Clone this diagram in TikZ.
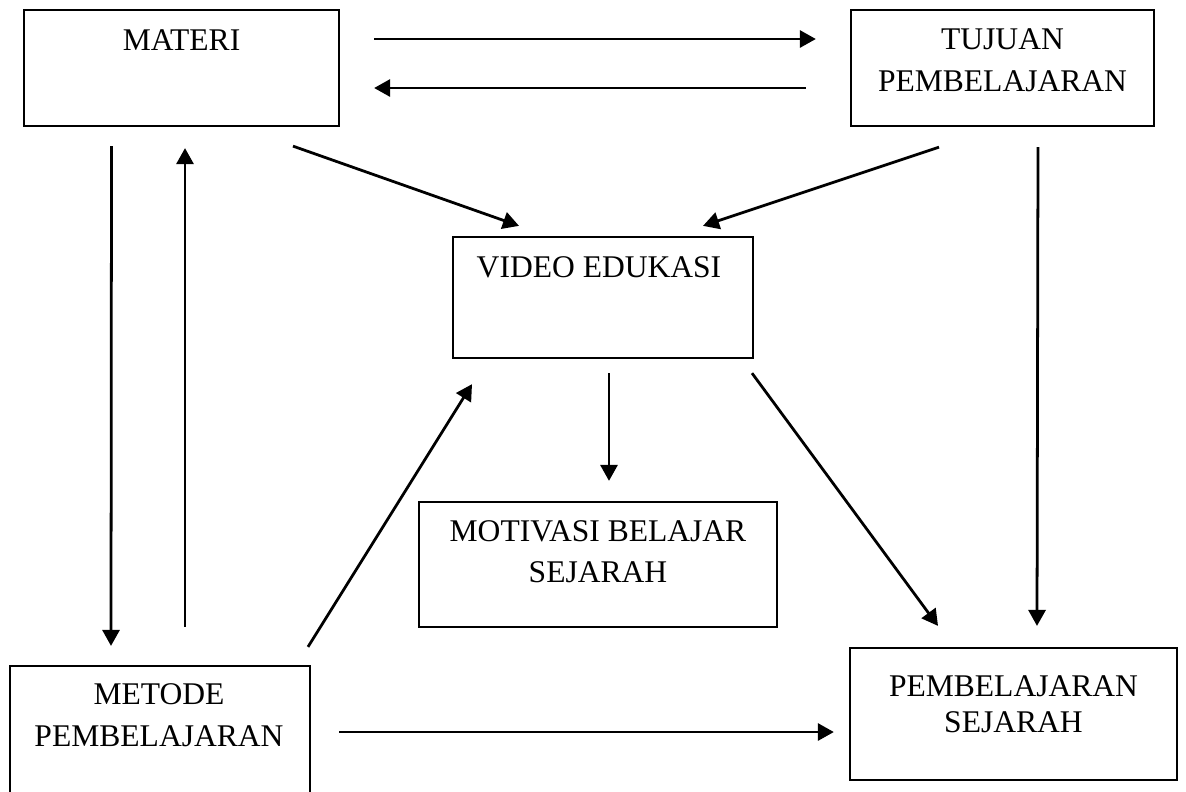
\documentclass[tikz,border=0pt]{standalone}
\usepackage{fontspec}
\setmainfont{Liberation Serif}
\usepackage{tikz}
\usetikzlibrary{calc}
\usetikzlibrary{positioning}
\usetikzlibrary{arrows.meta}

\begin{document}
\begin{tikzpicture}[x=0.0127cm,y=-0.0127cm,
    box/.style={draw,line width=0.8pt,inner sep=0pt},
    txt/.style={inner sep=0pt,align=center,font=\fontsize{11.4}{15.2}\selectfont},
    arr/.style={line width=1pt,-{Triangle[length=5.8pt,width=6.2pt]}}]
      \useasboundingbox (0,0) rectangle (1186,791);

      % kotak
      \node[box,minimum width=4cm,minimum height=1.473cm] (materi) at (181.5,68) {};
      \node[box,minimum width=3.848cm,minimum height=1.473cm] (tujuan) at (1002.5,68) {};
      \node[box,minimum width=3.81cm,minimum height=1.537cm] (video) at (603,297.5) {};
      \node[box,minimum width=4.547cm,minimum height=1.588cm] (motivasi) at (598,564.5) {};
      \node[box,minimum width=3.81cm,minimum height=1.651cm] (metode) at (160,731) {};
      \node[box,minimum width=4.153cm,minimum height=1.676cm] (pemb) at (1013.5,714) {};

      \node[txt] (materitxt) at ($(materi.north)+(0,31)$) {MATERI};
      \node[txt] (tujuantxt) at ($(tujuan.north)+(0,51)$) {TUJUAN\\PEMBELAJARAN};
      \node[txt] (videotxt) at ($(video.north)+(-4,31)$) {VIDEO EDUKASI};
      \node[txt] (motivasitxt) at ($(motivasi.north)+(0,51)$) {MOTIVASI BELAJAR\\[-0.6pt]SEJARAH};
      \node[txt] (metodetxt) at ($(metode.north)+(-1,50.5)$) {METODE\\PEMBELAJARAN};
      \node[txt] (pembtxt) at ($(pemb.north)+(0,57.5)$) {PEMBELAJARAN\\[-2.4pt]SEJARAH};

      % panah
      \draw[arr] ($(materi.east)+(34,-29)$) -- ($(tujuan.west)+(-34,-29)$);
      \draw[arr] ($(tujuan.west)+(-44,20)$) -- ($(materi.east)+(34,20)$);
      \draw[arr] ($(materi.south)+(-70,19)$) -- ($(metode.north)+(-49,-19)$);
      \draw[arr] ($(metode.north)+(25,-38)$) -- ($(materi.south)+(3.5,21)$);
      \draw[arr] ($(materi.south)+(111.5,19)$) -- ($(video.north)+(-84,-10)$);
      \draw[arr] ($(tujuan.south)+(-63.5,20)$) -- ($(video.north)+(100,-10)$);
      \draw[arr] ($(tujuan.south)+(35.5,20)$) -- ($(pemb.north)+(23.5,-21)$);
      \draw[arr] ($(video.south)+(6,14)$) -- ($(motivasi.north)+(11,-20)$);
      \draw[arr] ($(video.south)+(149,14)$) -- ($(pemb.north)+(-75.5,-21)$);
      \draw[arr] ($(metode.north)+(148,-18)$) -- ($(video.south)+(-131,25)$);
      \draw[arr] ($(metode.east)+(28,1)$) -- ($(pemb.west)+(-15,18)$);
    \end{tikzpicture}
\end{document}
